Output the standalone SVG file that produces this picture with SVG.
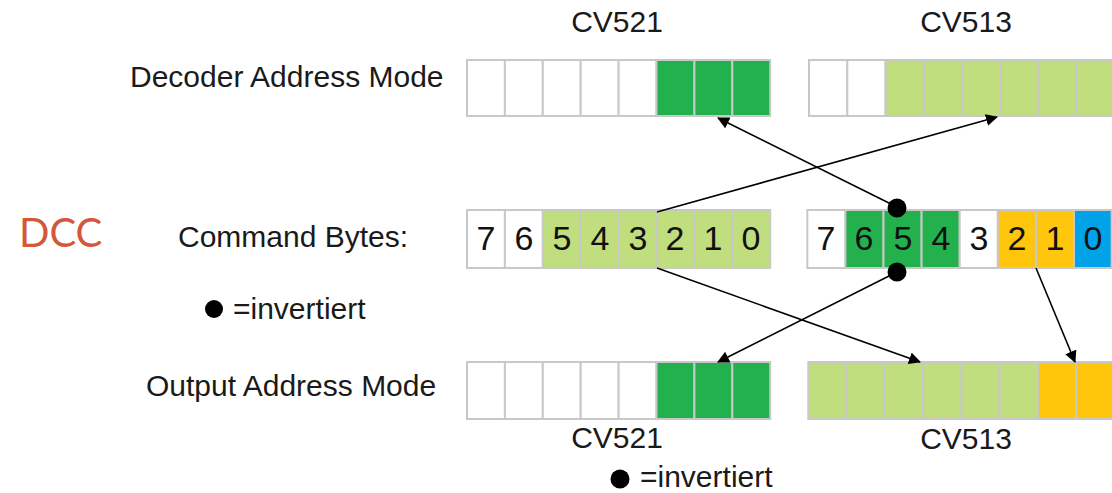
<svg xmlns="http://www.w3.org/2000/svg" width="1112" height="493" viewBox="0 0 1112 493">
  <style>
    .lbl { font-family: "Liberation Sans", Arial, sans-serif; font-size: 30px; fill: #1a1a1a; }
    .cv { font-family: "Liberation Sans", Arial, sans-serif; font-size: 30px; fill: #1a1a1a; text-anchor: middle; }
    .dig { font-family: "Liberation Sans", Arial, sans-serif; font-size: 34px; fill: #111; text-anchor: middle; }
    .cell { stroke: #c8c8c8; stroke-width: 2; }
    .w { fill: #ffffff; }
    .lg { fill: #c0de7e; }
    .dg { fill: #23b14d; }
    .or { fill: #ffc60b; }
    .bl { fill: #00a2e8; }
    .conn { stroke: #000; stroke-width: 1.6; fill: none; marker-end: url(#arrow); }
  </style>
  <defs>
    <marker id="arrow" viewBox="0 0 12 12" refX="11" refY="6" markerWidth="12" markerHeight="12" markerUnits="userSpaceOnUse" orient="auto">
      <path d="M0,0 L12,6 L0,12 Z" fill="#000"/>
    </marker>
  </defs>
  <rect width="1112" height="493" fill="#ffffff"/>

  <!-- DCC title -->
  <text id="dcc" x="19" y="247" font-family="Lato, 'Open Sans', sans-serif" font-size="40" fill="#d4573b">DCC</text>

  <!-- Row labels -->
  <g id="labels">
    <text class="lbl" x="130" y="87">Decoder Address Mode</text>
    <text class="lbl" x="178" y="247">Command Bytes:</text>
    <text class="lbl" x="146" y="396">Output Address Mode</text>
    <circle cx="214" cy="309" r="9" fill="#000"/>
    <text class="lbl" x="233" y="319">=invertiert</text>
  </g>

  <!-- CV captions -->
  <g id="cv-captions">
    <text class="cv" x="617" y="32">CV521</text>
    <text class="cv" x="966" y="32">CV513</text>
    <text class="cv" x="617" y="448">CV521</text>
    <text class="cv" x="966" y="449">CV513</text>
  </g>

  <!-- Decoder address mode, CV521 -->
  <g id="dec-cv521">
    <rect class="cell w" x="467" y="60" width="37.9" height="56"/>
    <rect class="cell w" x="504.9" y="60" width="37.9" height="56"/>
    <rect class="cell w" x="542.8" y="60" width="37.9" height="56"/>
    <rect class="cell w" x="580.7" y="60" width="37.9" height="56"/>
    <rect class="cell w" x="618.6" y="60" width="37.9" height="56"/>
    <rect class="cell dg" x="656.5" y="60" width="37.9" height="56"/>
    <rect class="cell dg" x="694.4" y="60" width="37.9" height="56"/>
    <rect class="cell dg" x="732.3" y="60" width="37.9" height="56"/>
  </g>

  <!-- Decoder address mode, CV513 -->
  <g id="dec-cv513">
    <rect class="cell w" x="809" y="60" width="38.3" height="56"/>
    <rect class="cell w" x="847.3" y="60" width="38.3" height="56"/>
    <rect class="cell lg" x="885.6" y="60" width="38.3" height="56"/>
    <rect class="cell lg" x="923.9" y="60" width="38.3" height="56"/>
    <rect class="cell lg" x="962.2" y="60" width="38.3" height="56"/>
    <rect class="cell lg" x="1000.5" y="60" width="38.3" height="56"/>
    <rect class="cell lg" x="1038.8" y="60" width="38.3" height="56"/>
    <rect class="cell lg" x="1077.1" y="60" width="38.3" height="56"/>
  </g>

  <!-- Command byte 1 -->
  <g id="cmd-byte1">
    <rect class="cell w" x="467" y="210" width="37.9" height="58"/>
    <rect class="cell w" x="504.9" y="210" width="37.9" height="58"/>
    <rect class="cell lg" x="542.8" y="210" width="37.9" height="58"/>
    <rect class="cell lg" x="580.7" y="210" width="37.9" height="58"/>
    <rect class="cell lg" x="618.6" y="210" width="37.9" height="58"/>
    <rect class="cell lg" x="656.5" y="210" width="37.9" height="58"/>
    <rect class="cell lg" x="694.4" y="210" width="37.9" height="58"/>
    <rect class="cell lg" x="732.3" y="210" width="37.9" height="58"/>
    <text class="dig" x="486" y="250">7</text>
    <text class="dig" x="524" y="250">6</text>
    <text class="dig" x="562" y="250">5</text>
    <text class="dig" x="600" y="250">4</text>
    <text class="dig" x="638" y="250">3</text>
    <text class="dig" x="675" y="250">2</text>
    <text class="dig" x="713" y="250">1</text>
    <text class="dig" x="751" y="250">0</text>
  </g>

  <!-- Command byte 2 -->
  <g id="cmd-byte2">
    <rect class="cell w" x="807.3" y="210" width="38.1" height="58"/>
    <rect class="cell dg" x="845.4" y="210" width="38.1" height="58"/>
    <rect class="cell dg" x="883.5" y="210" width="38.1" height="58"/>
    <rect class="cell dg" x="921.6" y="210" width="38.1" height="58"/>
    <rect class="cell w" x="959.7" y="210" width="38.1" height="58"/>
    <rect class="cell or" x="997.8" y="210" width="38.1" height="58"/>
    <rect class="cell or" x="1035.9" y="210" width="38.1" height="58"/>
    <rect class="cell bl" x="1074" y="210" width="37.6" height="58"/>
    <text class="dig" x="826" y="250">7</text>
    <text class="dig" x="864" y="250">6</text>
    <text class="dig" x="903" y="250">5</text>
    <text class="dig" x="941" y="250">4</text>
    <text class="dig" x="979" y="250">3</text>
    <text class="dig" x="1017" y="250">2</text>
    <text class="dig" x="1055" y="250">1</text>
    <text class="dig" x="1093" y="250">0</text>
  </g>

  <!-- Output address mode, CV521 -->
  <g id="out-cv521">
    <rect class="cell w" x="467" y="362" width="37.9" height="57"/>
    <rect class="cell w" x="504.9" y="362" width="37.9" height="57"/>
    <rect class="cell w" x="542.8" y="362" width="37.9" height="57"/>
    <rect class="cell w" x="580.7" y="362" width="37.9" height="57"/>
    <rect class="cell w" x="618.6" y="362" width="37.9" height="57"/>
    <rect class="cell dg" x="656.5" y="362" width="37.9" height="57"/>
    <rect class="cell dg" x="694.4" y="362" width="37.9" height="57"/>
    <rect class="cell dg" x="732.3" y="362" width="37.9" height="57"/>
  </g>

  <!-- Output address mode, CV513 -->
  <g id="out-cv513">
    <rect class="cell lg" x="808.3" y="362" width="38.3" height="57"/>
    <rect class="cell lg" x="846.6" y="362" width="38.3" height="57"/>
    <rect class="cell lg" x="884.9" y="362" width="38.3" height="57"/>
    <rect class="cell lg" x="923.2" y="362" width="38.3" height="57"/>
    <rect class="cell lg" x="961.5" y="362" width="38.3" height="57"/>
    <rect class="cell lg" x="999.8" y="362" width="38.3" height="57"/>
    <rect class="cell or" x="1038.1" y="362" width="38.3" height="57"/>
    <rect class="cell or" x="1076.4" y="362" width="38.3" height="57"/>
  </g>

  <!-- Bit mapping connectors -->
  <g id="connectors">
    <line class="conn" x1="657" y1="212" x2="997" y2="117"/>
    <line class="conn" x1="897" y1="207" x2="718" y2="118"/>
    <line class="conn" x1="657" y1="268" x2="920" y2="362"/>
    <line class="conn" x1="897" y1="272" x2="718" y2="362"/>
    <line class="conn" x1="1036" y1="268" x2="1075" y2="362"/>
    <circle cx="897" cy="208" r="9.5" fill="#000"/>
    <circle cx="897" cy="272" r="9.5" fill="#000"/>
  </g>

  <!-- Legend -->
  <g id="legend">
    <circle cx="620" cy="479" r="9.5" fill="#000"/>
    <text class="lbl" x="640" y="487">=invertiert</text>
  </g>
</svg>
